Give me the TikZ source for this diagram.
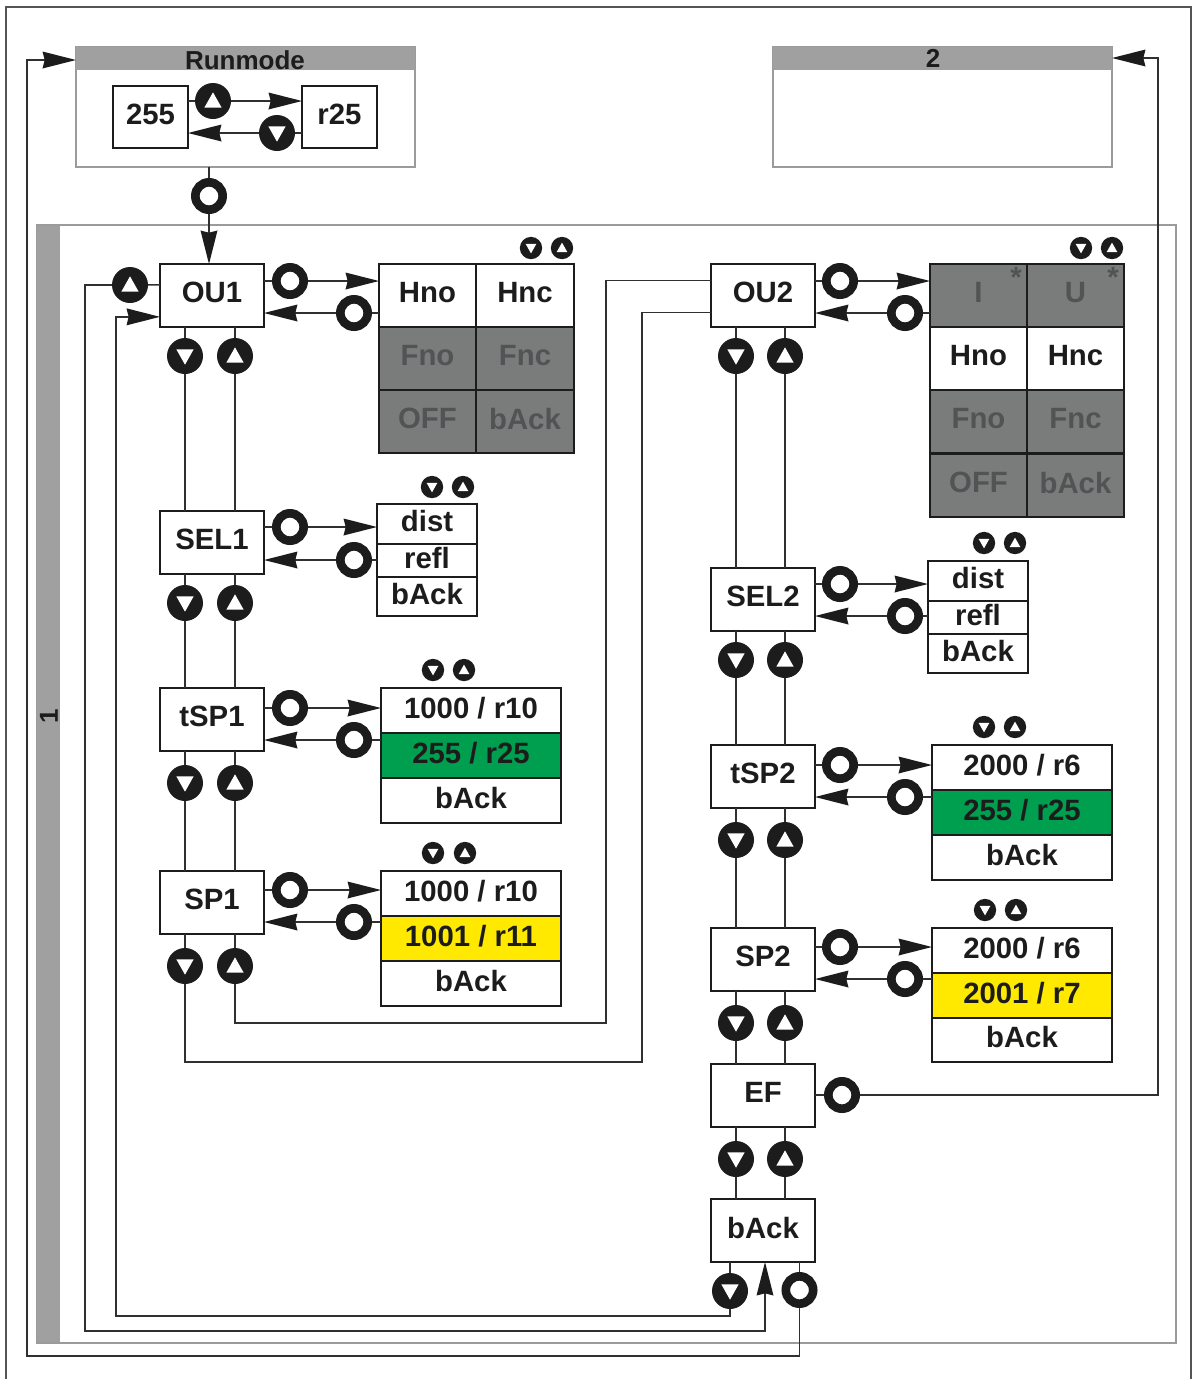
\documentclass[tikz,border=0pt]{standalone}
\usepackage{fontspec}
\setmainfont{Liberation Sans}
\usetikzlibrary{arrows.meta,shapes.geometric}
\definecolor{ink}{RGB}{28,28,28}
\definecolor{wire}{RGB}{48,48,48}
\definecolor{bordergray}{RGB}{85,85,85}
\definecolor{framegray}{RGB}{155,155,155}
\definecolor{bargray}{RGB}{160,160,160}
\definecolor{cellgray}{RGB}{122,124,124}
\definecolor{cellink}{RGB}{80,84,84}
\definecolor{cellgreen}{RGB}{0,158,79}
\definecolor{cellyellow}{RGB}{255,233,0}
\tikzset{
  line/.style={draw=wire,line width=1.2pt},
  arrowline/.style={line,-{Stealth[length=25pt,width=12.5pt,inset=1.5pt,color=ink]}},
  framebox/.style={draw=framegray,line width=1.3pt},
  barbox/.style={fill=bargray},
  lab/.style={font=\bfseries\fontsize{22}{24}\selectfont,text=ink,text depth=4.5pt},
  barlab/.style={font=\bfseries\fontsize{19.5}{22}\selectfont,text=ink},
  menubox/.style={draw=ink,line width=1.5pt,fill=white,lab,minimum width=78pt,minimum height=47.25pt,inner sep=0pt,outer sep=0pt},
  valuebox/.style={draw=ink,line width=1.5pt,fill=white,lab,minimum width=56.25pt,minimum height=46.5pt,inner sep=0pt,outer sep=0pt},
  cell/.style 2 args={draw=ink,line width=1.5pt,lab,anchor=north west,minimum width=#1*0.75pt,minimum height=#2*0.75pt,inner sep=0pt,outer sep=0pt},
  greycell/.style={fill=cellgray,text=cellink},
  btn/.style={circle,fill=ink,minimum size=#1*27pt,inner sep=0pt,outer sep=0pt},
  btn/.default=1,
  btnup/.style={btn=#1,path picture={\fill[white]
    ([yshift=#1*6.5pt]path picture bounding box.center) --
    ([xshift=#1*6.5pt,yshift=#1*-5pt]path picture bounding box.center) --
    ([xshift=#1*-6.5pt,yshift=#1*-5pt]path picture bounding box.center) -- cycle;}},
  btnup/.default=1,
  btndown/.style={btn=#1,path picture={\fill[white]
    ([yshift=#1*-6.5pt]path picture bounding box.center) --
    ([xshift=#1*6.5pt,yshift=#1*5pt]path picture bounding box.center) --
    ([xshift=#1*-6.5pt,yshift=#1*5pt]path picture bounding box.center) -- cycle;}},
  btndown/.default=1,
  btnok/.style={circle,draw=ink,line width=6.5pt,fill=white,minimum size=20.5pt,inner sep=0pt,outer sep=3.25pt},
}
\begin{document}
\begin{tikzpicture}[x=0.75pt,y=0.75pt,yscale=-1,xscale=1]
\useasboundingbox (0,0) rectangle (1193,1379);

% outer border
\draw [draw=bordergray,line width=1.5pt] (6,1379) -- (6,6.5) -- (1191,6.5) -- (1191,1379);

% frame 1
\draw [framebox] (37,225) rectangle (1176,1343);
\fill [barbox] (37,226) rectangle (60,1342);
\node [barlab,rotate=90] (title1) at (49,716) {1};

% Runmode frame
\node [framebox,fill=white,anchor=north west,minimum width=254.25pt,minimum height=90pt,inner sep=0pt,outer sep=0pt] (runframe) at (76,47) {};
\fill [barbox] (76,47) rectangle (415,70);
\node [barlab] (runtitle) at (245,60) {Runmode};
\node [valuebox] (run255) at (150.5,117) {255};
\node [valuebox] (runr25) at (339.5,117) {r25};
\node [btnup] (runup) at (213,101) {};
\node [btndown] (rundown) at (277,133) {};
\draw [line] (run255.east |- runup) -- (runup);
\draw [arrowline] (runup) -- (runr25.west |- runup);
\draw [line] (runr25.west |- rundown) -- (rundown);
\draw [arrowline] (rundown) -- (run255.east |- rundown);

% frame 2
\node [framebox,fill=white,anchor=north west,minimum width=254.25pt,minimum height=90pt,inner sep=0pt,outer sep=0pt] (frametwo) at (773,47) {};
\fill [barbox] (773,47) rectangle (1112,70);
\node [barlab] (twotitle) at (933,58) {2};

% menu boxes, left
\node [menubox] (ou1) at (212,295.5) {OU1};
\node [menubox] (sel1) at (212,542.5) {SEL1};
\node [menubox] (tsp1) at (212,719.5) {tSP1};
\node [menubox] (sp1) at (212,902.5) {SP1};
% menu boxes, right
\node [menubox] (ou2) at (763,295.5) {OU2};
\node [menubox] (sel2) at (763,599.5) {SEL2};
\node [menubox] (tsp2) at (763,776.5) {tSP2};
\node [menubox] (sp2) at (763,959.5) {SP2};
\node [menubox] (ef) at (763,1095.5) {EF};
\node [menubox] (back) at (763,1230.5) {bAck};

% Runmode to OU1
\node [btnok] (runok) at (209,196) {};
\draw [line] (runframe.south -| runok) -- (runok);
\draw [arrowline] (runok) -- (runok |- ou1.north);

% up and down between the menu boxes
\foreach \upper/\lower/\ypos/\tag in {ou1/sel1/356/a,sel1/tsp1/603/b,tsp1/sp1/783/c}{
  \node [btndown] (dn\tag) at (185,\ypos) {};
  \node [btnup] (up\tag) at (235,\ypos) {};
  \draw [line] (\upper.south -| dn\tag) -- (dn\tag) -- (\lower.north -| dn\tag);
  \draw [line] (\upper.south -| up\tag) -- (up\tag) -- (\lower.north -| up\tag);
}
\foreach \upper/\lower/\ypos/\tag in {ou2/sel2/356/d,sel2/tsp2/660/e,tsp2/sp2/840/f,sp2/ef/1023/g,ef/back/1159/h}{
  \node [btndown] (dn\tag) at (736,\ypos) {};
  \node [btnup] (up\tag) at (785,\ypos) {};
  \draw [line] (\upper.south -| dn\tag) -- (dn\tag) -- (\lower.north -| dn\tag);
  \draw [line] (\upper.south -| up\tag) -- (up\tag) -- (\lower.north -| up\tag);
}

% OU1 table
\node [cell={97}{63},fill=white] (hnoa) at (379,264) {Hno};
\node [cell={98}{63},fill=white] (hnca) at (476,264) {Hnc};
\node [cell={97}{63},greycell] at (379,327) {Fno};
\node [cell={98}{63},greycell] at (476,327) {Fnc};
\node [cell={97}{63},greycell] at (379,390) {OFF};
\node [cell={98}{63},greycell] at (476,390) {bAck};
% OU2 table
\node [cell={97}{63},greycell] (icell) at (930,264) {I};
\node [cell={97}{63},greycell] (ucell) at (1027,264) {U};
\node [cell={97}{63},fill=white] at (930,327) {Hno};
\node [cell={97}{63},fill=white] at (1027,327) {Hnc};
\node [cell={97}{63},greycell] at (930,390) {Fno};
\node [cell={97}{63},greycell] at (1027,390) {Fnc};
\node [cell={97}{63},greycell] at (930,454) {OFF};
\node [cell={97}{63},greycell] at (1027,454) {bAck};
\node [lab,text=cellink] (stari) at (1016,280) {*};
\node [lab,text=cellink] (staru) at (1113,280) {*};

% SEL tables
\node [cell={100}{40},fill=white] (dista) at (377,504) {dist};
\node [cell={100}{33},fill=white] at (377,544) {refl};
\node [cell={100}{39},fill=white] at (377,577) {bAck};
\node [cell={100}{40},fill=white] (distb) at (928,561) {dist};
\node [cell={100}{33},fill=white] at (928,601) {refl};
\node [cell={100}{39},fill=white] at (928,634) {bAck};

% tSP tables
\node [cell={180}{45},fill=white] (tvala) at (381,688) {1000 / r10};
\node [cell={180}{45},fill=cellgreen] at (381,733) {255 / r25};
\node [cell={180}{45},fill=white] at (381,778) {bAck};
\node [cell={180}{45},fill=white] (tvalb) at (932,745) {2000 / r6};
\node [cell={180}{45},fill=cellgreen] at (932,790) {255 / r25};
\node [cell={180}{45},fill=white] at (932,835) {bAck};

% SP tables
\node [cell={180}{45},fill=white] (svala) at (381,871) {1000 / r10};
\node [cell={180}{45},fill=cellyellow] at (381,916) {1001 / r11};
\node [cell={180}{45},fill=white] at (381,961) {bAck};
\node [cell={180}{45},fill=white] (svalb) at (932,928) {2000 / r6};
\node [cell={180}{45},fill=cellyellow] at (932,973) {2001 / r7};
\node [cell={180}{44},fill=white] at (932,1018) {bAck};

% small buttons above the tables
\foreach \xa/\xb/\ypos in {531/562/248,432/463/487,433/464/670,433/465/853,1081/1112/248,984/1015/543,984/1015/727,985/1016/910}{
  \node [btndown=0.62] at (\xa,\ypos) {};
  \node [btnup=0.62] at (\xb,\ypos) {};
}

% ok buttons between menu boxes and tables
\foreach \menu/\tab/\xa/\xb/\ya/\yb/\tag in {ou1/hnoa/290/354/281/313/a,sel1/dista/290/354/527/560/b,tsp1/tvala/290/354/708/740/c,sp1/svala/290/354/890/922/d,ou2/icell/840/905/281/313/e,sel2/distb/840/905/584/616/f,tsp2/tvalb/840/905/765/797/g,sp2/svalb/840/905/947/979/h}{
  \node [btnok] (oka\tag) at (\xa,\ya) {};
  \node [btnok] (okb\tag) at (\xb,\yb) {};
  \draw [line] (\menu.east |- oka\tag) -- (oka\tag);
  \draw [arrowline] (oka\tag) -- (\tab.west |- oka\tag);
  \draw [line] (\tab.west |- okb\tag) -- (okb\tag);
  \draw [arrowline] (okb\tag) -- (\menu.east |- okb\tag);
}

% SP1 over to OU2
\node [btndown] (dnsp) at (185,966) {};
\node [btnup] (upsp) at (235,966) {};
\coordinate (upturn) at (606,1023);
\coordinate (dnturn) at (642,1062);
\draw [line] (sp1.south -| dnsp) -- (dnsp);
\draw [line] (sp1.south -| upsp) -- (upsp);
\draw [line] (upsp) |- (upturn) |- ([yshift=-11.25pt]ou2.west);
\draw [line] (dnsp) |- (dnturn) |- ([yshift=12.75pt]ou2.west);

% OU1 up button, bAck buttons and the way round
\node [btnup] (upou) at (130,285) {};
\node [btndown] (dnback) at (730,1291) {};
\node [btnok] (okback) at (799.5,1290) {};
\coordinate (upcorner) at (85,1331);
\coordinate (upback) at (765,1331);
\coordinate (dncorner) at (116,1316);
\coordinate (okleft) at (27,1356);
\draw [line] ([yshift=-8pt]ou1.west) -- (upou);
\draw [arrowline] (upou) -| (upcorner) -- (upback) -- (back.south -| upback);
\draw [line] (back.south -| dnback) -- (dnback);
\draw [arrowline] (dnback) |- (dncorner) |- ([yshift=16pt]ou1.west);
\draw [line] (back.south -| okback) -- (okback);
\draw [arrowline] (okback) |- (okleft) |- (runframe.west |- runtitle);

% EF over to frame 2
\node [btnok] (okef) at (842,1095) {};
\coordinate (efcorner) at (1158,1095);
\draw [line] (ef.east |- okef) -- (okef);
\draw [arrowline] (okef) -- (efcorner) |- (frametwo.east |- twotitle);

\end{tikzpicture}
\end{document}
